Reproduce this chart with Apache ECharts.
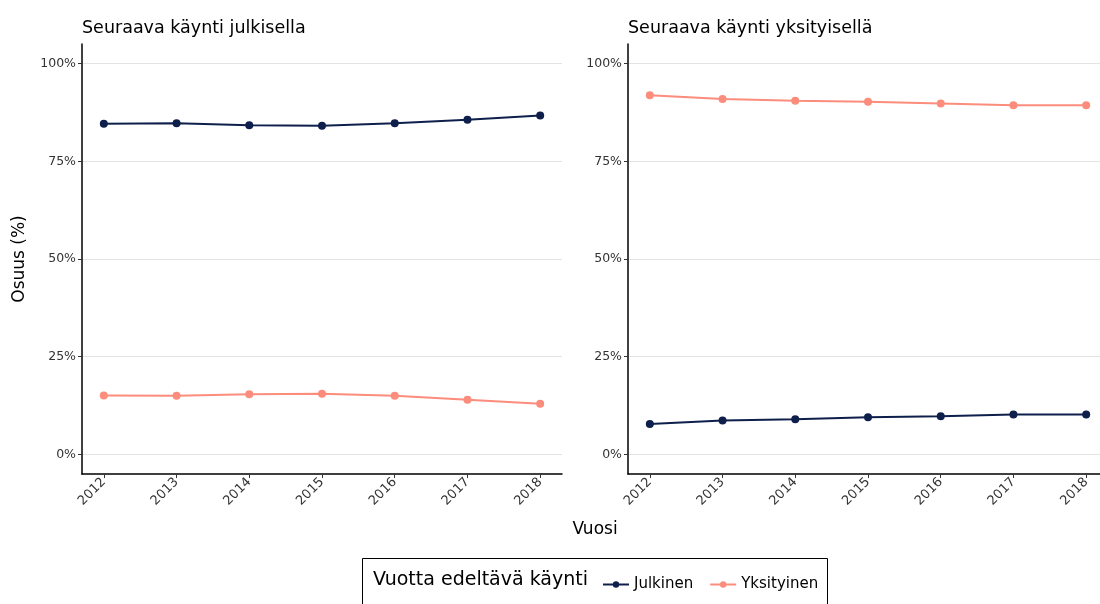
<!DOCTYPE html>
<html>
<head>
<meta charset="utf-8">
<script src="https://cdn.jsdelivr.net/npm/echarts@6/dist/echarts.min.js"></script>
<style>
  html, body { margin: 0; padding: 0; background: #fff; }
  #chart { width: 1100px; height: 604px; }
</style>
</head>
<body>
<div id="chart"></div>
<script>
// data
const years = [2012, 2013, 2014, 2015, 2016, 2017, 2018]
const panelTitles = ['Seuraava käynti julkisella', 'Seuraava käynti yksityisellä']
const seriesNames = ['Julkinen', 'Yksityinen']
const yTicks = [0, 25, 50, 75, 100]
// seuraava käynti julkisella
const leftJulkinen = [84.6, 84.7, 84.2, 84.1, 84.7, 85.6, 86.7]
const leftYksityinen = [15.1, 15.0, 15.4, 15.5, 15.0, 14.0, 13.0]
// seuraava käynti yksityisellä
const rightJulkinen = [7.8, 8.7, 9.0, 9.5, 9.8, 10.2, 10.2]
const rightYksityinen = [91.9, 90.9, 90.5, 90.2, 89.8, 89.3, 89.3]

const colors = ['#0e1f4c', '#fc8c7b']
const font = 'DejaVu Sans'

const chart = echarts.init(document.getElementById('chart'))

const pairs = arr => years.map((y, i) => [y, arr[i]])

const makeX = idx => ({
  type: 'value',
  gridIndex: idx,
  min: 2011.7,
  max: 2018.3,
  axisLine: { onZero: false, lineStyle: { color: '#000', width: 1.5 } },
  axisTick: { show: true, customValues: years, length: 4, lineStyle: { color: '#333' } },
  axisLabel: {
    customValues: years,
    formatter: v => String(v),
    rotate: 45,
    fontSize: 13,
    color: '#333',
    fontFamily: font,
    margin: 6
  },
  splitLine: { show: false }
})

const makeY = idx => ({
  type: 'value',
  gridIndex: idx,
  min: -5,
  max: 105,
  axisLine: { show: true, onZero: false, lineStyle: { color: '#000', width: 1.5 } },
  axisTick: { show: true, customValues: yTicks, length: 4, lineStyle: { color: '#333' } },
  axisLabel: {
    customValues: yTicks,
    formatter: v => v + '%',
    fontSize: 12.5,
    color: '#333',
    fontFamily: font,
    margin: 6
  },
  splitLine: { show: true, lineStyle: { color: '#e3e3e3', width: 1 } }
})

const makeSeries = (name, arr, idx, color) => ({
  name: name,
  type: 'line',
  xAxisIndex: idx,
  yAxisIndex: idx,
  data: pairs(arr),
  symbol: 'circle',
  symbolSize: 8,
  lineStyle: { color: color, width: 2 },
  itemStyle: { color: color },
  animation: false
})

const option = {
  backgroundColor: '#fff',
  color: colors,
  textStyle: { fontFamily: font },
  title: [
    { text: panelTitles[0], left: 77, top: 14, textStyle: { fontSize: 17.5, fontWeight: 'normal', color: '#000', fontFamily: font } },
    { text: panelTitles[1], left: 623, top: 14, textStyle: { fontSize: 17.5, fontWeight: 'normal', color: '#000', fontFamily: font } }
  ],
  grid: [
    { left: 82, top: 44, width: 480, height: 430, outerBoundsMode: 'none' },
    { left: 628, top: 44, width: 480, height: 430, outerBoundsMode: 'none' }
  ],
  xAxis: [makeX(0), makeX(1)],
  yAxis: [makeY(0), makeY(1)],
  legend: {
    data: seriesNames,
    left: 597,
    top: 572,
    itemWidth: 26,
    itemHeight: 8,
    itemGap: 16,
    textStyle: { fontSize: 15, color: '#000', fontFamily: font }
  },
  graphic: [
    {
      type: 'rect',
      shape: { x: 362.5, y: 558.5, width: 465, height: 60 },
      style: { fill: 'none', stroke: '#000', lineWidth: 1 }
    },
    {
      type: 'text',
      x: 373, y: 571,
      style: { text: 'Vuotta edeltävä käynti', fontSize: 19, fill: '#000', fontFamily: font }
    },
    {
      type: 'text',
      x: 595, y: 530,
      style: { text: 'Vuosi', fontSize: 17, fill: '#000', fontFamily: font, align: 'center', verticalAlign: 'middle' }
    },
    {
      type: 'text',
      x: 20, y: 259,
      rotation: Math.PI / 2,
      style: { text: 'Osuus (%)', fontSize: 17, fill: '#000', fontFamily: font, align: 'center', verticalAlign: 'middle' }
    }
  ],
  series: [
    makeSeries(seriesNames[0], leftJulkinen, 0, colors[0]),
    makeSeries(seriesNames[1], leftYksityinen, 0, colors[1]),
    makeSeries(seriesNames[0], rightJulkinen, 1, colors[0]),
    makeSeries(seriesNames[1], rightYksityinen, 1, colors[1])
  ]
}

chart.setOption(option)
</script>
</body>
</html>
